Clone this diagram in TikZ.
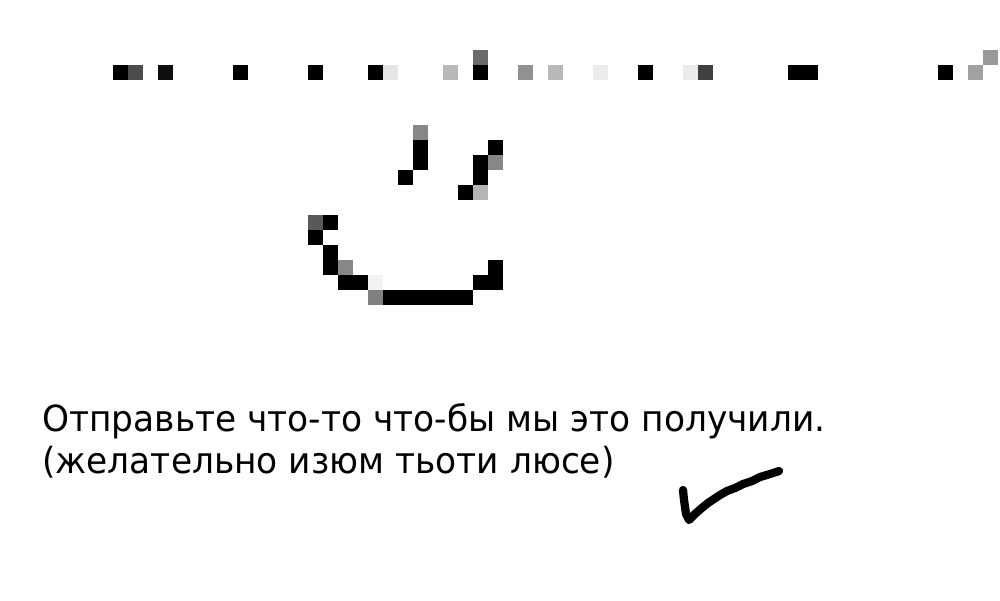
\documentclass[tikz,border=0pt]{standalone}
\usepackage{fontspec}
\setmainfont{DejaVu Sans}[FakeStretch=0.955]
\tikzset{pixel/.style={fill=black!#1,draw=none}}
\tikzset{caption/.style={anchor=base west,inner sep=0pt,font=\fontsize{20.5}{25}\selectfont}}
\tikzset{stroke/.style={draw=black,line width=4.7pt,line cap=round,line join=round}}

\begin{document}
\begin{tikzpicture}[x=0.02cm,y=-0.02cm]
		
		\useasboundingbox (0,0) rectangle (1000,600);
		
		% top row
		\foreach \px/\py/\tone in {113/65/100,128/65/70,158/65/94,233/65/100,308/65/100,368/65/100,383/65/10,
			443/65/28,473/65/100,473/50/58,518/65/43,548/65/28,593/65/8,638/65/100,683/65/8,698/65/75,
			788/65/100,803/65/100,938/65/100,968/65/37,983/50/40}
			\fill[pixel=\tone] (\px,\py) rectangle ++(15,15);
		
		% eyes
		\foreach \px/\py/\tone in {413/125/47,413/140/100,413/155/100,398/170/100,
			488/140/100,473/155/100,488/155/47,473/170/100,458/185/100,473/185/29}
			\fill[pixel=\tone] (\px,\py) rectangle ++(15,15);
		
		% mouth
		\foreach \px/\py/\tone in {308/215/65,323/215/100,308/230/100,323/245/100,323/260/100,338/260/47,
			338/275/100,353/275/100,368/275/5,368/290/50,383/290/100,398/290/100,413/290/100,428/290/100,
			443/290/100,458/290/100,473/275/100,488/275/100,488/260/100}
			\fill[pixel=\tone] (\px,\py) rectangle ++(15,15);
		
		\node[caption] (line1) at (42,431) {Отправьте что-то что-бы мы это получили.};
		\node[caption] (line2) at (42,473) {(желательно изюм тьоти люсе)};
		
		\draw[stroke] (683,490) -- (684,500) -- (685,507) -- (686,514) -- (689,520) -- (691,518) -- (696,513)
			-- (703,507) -- (708,503) -- (714,499) -- (720,495) -- (727,491) -- (735,488) -- (743,484)
			-- (752,481) -- (760,477) -- (770,474) -- (779,471);
		\end{tikzpicture}
\end{document}
